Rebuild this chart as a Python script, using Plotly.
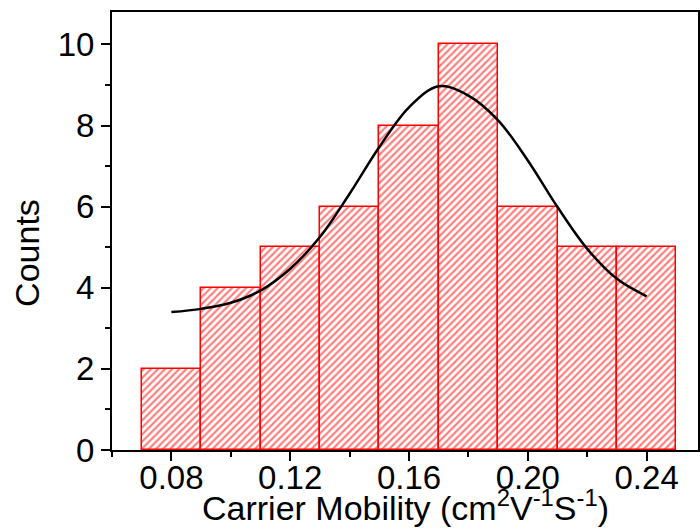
import plotly.graph_objects as go

# Histogram bins (centres) and counts
bin_centers = [0.08, 0.10, 0.12, 0.14, 0.16, 0.18, 0.20, 0.22, 0.24]
counts = [2, 4, 5, 6, 8, 10, 6, 5, 5]
bin_width = 0.02

# Gaussian fit curve sampled points
fit_x = [0.08, 0.09, 0.10, 0.11, 0.12, 0.13, 0.14, 0.15, 0.16, 0.17,
         0.18, 0.19, 0.20, 0.21, 0.22, 0.23, 0.24]
fit_y = [3.40, 3.48, 3.63, 3.93, 4.47, 5.25, 6.32, 7.47, 8.45, 8.97,
         8.74, 8.13, 7.14, 5.99, 4.96, 4.22, 3.79]

x_ticks = [0.08, 0.12, 0.16, 0.20, 0.24]
x_tick_text = ["0.08", "0.12", "0.16", "0.20", "0.24"]
y_ticks = [0, 2, 4, 6, 8, 10]

FONT = "Liberation Sans, Arial, sans-serif"

fig = go.Figure()

fig.add_trace(go.Bar(
    x=bin_centers,
    y=counts,
    width=[bin_width] * len(counts),
    marker=dict(
        color="white",
        line=dict(color="#ff0000", width=1.5),
        pattern=dict(shape="/", fgcolor="#ff0000", bgcolor="white",
                     size=5, solidity=0.45),
    ),
    showlegend=False,
))

fig.add_trace(go.Scatter(
    x=fit_x,
    y=fit_y,
    mode="lines",
    line=dict(color="black", width=2.5, shape="spline", smoothing=1.0),
    showlegend=False,
))

fig.update_layout(
    width=700,
    height=532,
    margin=dict(l=112, r=0, t=12, b=82),
    paper_bgcolor="white",
    plot_bgcolor="white",
    font=dict(family=FONT, color="black", size=33),
    bargap=0,
    xaxis=dict(
        range=[0.06, 0.2573],
        tickmode="array",
        tickvals=x_ticks,
        ticktext=x_tick_text,
        ticks="outside",
        ticklen=9,
        tickwidth=2,
        tickcolor="black",
        tickfont=dict(family=FONT, size=33),
        minor=dict(tickvals=[0.06, 0.10, 0.14, 0.18, 0.22, 0.26],
                   ticks="outside", ticklen=5, tickwidth=2, tickcolor="black"),
        showline=True,
        linecolor="black",
        linewidth=2,
        mirror=True,
        showgrid=False,
        zeroline=False,
        ticklabelstandoff=-12,
    ),
    yaxis=dict(
        range=[0, 10.8],
        tickmode="array",
        tickvals=y_ticks,
        ticks="outside",
        ticklen=9,
        tickwidth=2,
        tickcolor="black",
        tickfont=dict(family=FONT, size=33),
        minor=dict(tickvals=[1, 3, 5, 7, 9],
                   ticks="outside", ticklen=5, tickwidth=2, tickcolor="black"),
        showline=True,
        linecolor="black",
        linewidth=2,
        mirror=True,
        showgrid=False,
        zeroline=False,
    ),
    annotations=[
        dict(
            text="Carrier Mobility (cm<sup>2</sup>V<sup>-1</sup>S<sup>-1</sup>)",
            xref="paper", yref="paper",
            x=0.5, y=0, xanchor="center", yanchor="top",
            yshift=-32,
            showarrow=False,
            font=dict(family=FONT, size=34, color="black"),
        ),
        dict(
            text="Counts",
            xref="paper", yref="paper",
            x=0, y=0.45, xanchor="center", yanchor="middle",
            xshift=-85,
            textangle=-90,
            showarrow=False,
            font=dict(family=FONT, size=34, color="black"),
        ),
    ],
)

fig.write_html("out.html")
